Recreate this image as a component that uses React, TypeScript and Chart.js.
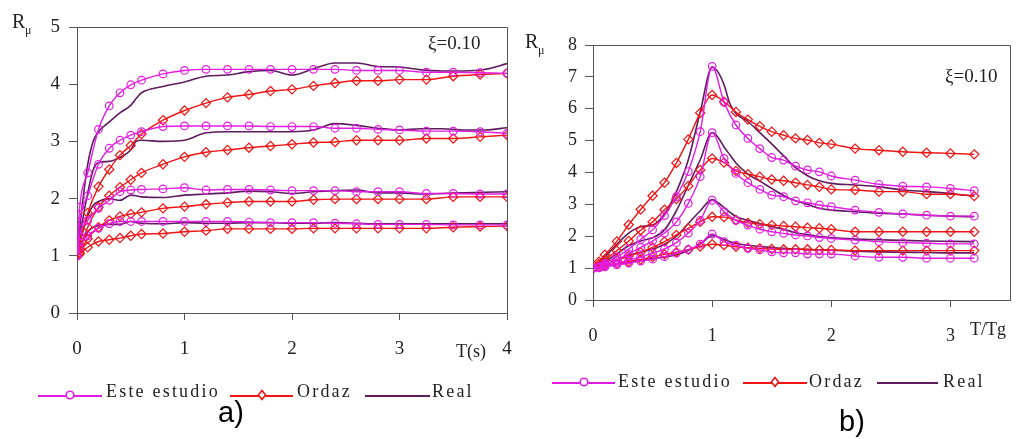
import React, { useEffect, useRef } from "react";
import { Chart, registerables } from "chart.js";
Chart.register(...registerables);

// ---------------- Panel a) data: R_mu vs T(s) ----------------
const periodsA = [0, 0.025, 0.1, 0.2, 0.3, 0.4, 0.5, 0.6, 0.8, 1.0, 1.2, 1.4, 1.6, 1.8, 2.0, 2.2, 2.4, 2.6, 2.8, 3.0, 3.25, 3.5, 3.75, 4.0];
const esteA1 = [1.0, 1.85, 2.45, 3.21, 3.62, 3.85, 3.99, 4.07, 4.18, 4.24, 4.26, 4.26, 4.26, 4.26, 4.26, 4.26, 4.26, 4.24, 4.24, 4.24, 4.21, 4.21, 4.2, 4.19];
const esteA2 = [1.0, 1.6, 2.05, 2.6, 2.88, 3.02, 3.11, 3.17, 3.26, 3.27, 3.27, 3.27, 3.27, 3.26, 3.26, 3.26, 3.23, 3.23, 3.21, 3.2, 3.18, 3.18, 3.17, 3.14];
const esteA3 = [1.0, 1.35, 1.62, 1.83, 1.97, 2.12, 2.15, 2.16, 2.17, 2.19, 2.15, 2.16, 2.16, 2.15, 2.14, 2.14, 2.14, 2.12, 2.12, 2.12, 2.09, 2.09, 2.08, 2.08];
const esteA4 = [1.0, 1.15, 1.35, 1.48, 1.56, 1.6, 1.6, 1.6, 1.6, 1.6, 1.6, 1.6, 1.59, 1.58, 1.58, 1.58, 1.57, 1.56, 1.55, 1.55, 1.55, 1.54, 1.54, 1.54];
const ordazA1 = [1.0, 1.2, 1.75, 2.21, 2.51, 2.76, 2.93, 3.13, 3.37, 3.54, 3.67, 3.77, 3.82, 3.88, 3.91, 3.97, 4.02, 4.06, 4.06, 4.08, 4.08, 4.14, 4.17, 4.19];
const ordazA2 = [1.0, 1.1, 1.5, 1.85, 2.05, 2.2, 2.33, 2.45, 2.6, 2.73, 2.81, 2.85, 2.89, 2.92, 2.95, 2.98, 2.99, 3.02, 3.02, 3.02, 3.05, 3.05, 3.08, 3.11];
const ordazA3 = [1.0, 1.05, 1.3, 1.5, 1.62, 1.69, 1.73, 1.76, 1.83, 1.86, 1.9, 1.93, 1.95, 1.95, 1.95, 1.98, 1.99, 1.99, 1.99, 1.99, 1.99, 2.03, 2.03, 2.03];
const ordazA4 = [1.0, 1.03, 1.15, 1.25, 1.28, 1.31, 1.35, 1.38, 1.39, 1.42, 1.44, 1.47, 1.47, 1.47, 1.47, 1.48, 1.48, 1.48, 1.48, 1.48, 1.48, 1.5, 1.51, 1.52];
const realPeriodsA = [0, 0.05, 0.1, 0.15, 0.2, 0.3, 0.4, 0.5, 0.55, 0.6, 0.8, 1.0, 1.2, 1.4, 1.6, 1.8, 2.0, 2.2, 2.4, 2.6, 2.8, 3.0, 3.2, 3.4, 3.6, 3.8, 4.0];
const realA1 = [1.0, 1.9, 2.6, 3.0, 3.17, 3.34, 3.5, 3.63, 3.75, 3.85, 3.96, 4.04, 4.14, 4.16, 4.22, 4.24, 4.16, 4.27, 4.37, 4.37, 4.31, 4.3, 4.25, 4.23, 4.23, 4.26, 4.36];
const realA2 = [1.0, 1.6, 2.1, 2.5, 2.63, 2.65, 2.72, 2.85, 3.0, 3.02, 3.0, 3.02, 3.15, 3.17, 3.17, 3.17, 3.17, 3.2, 3.31, 3.28, 3.23, 3.2, 3.22, 3.22, 3.2, 3.2, 3.24];
const realA3 = [1.0, 1.4, 1.7, 1.88, 1.95, 2.0, 1.97, 2.06, 2.05, 2.03, 2.02, 2.06, 2.08, 2.1, 2.13, 2.12, 2.09, 2.12, 2.14, 2.15, 2.1, 2.1, 2.08, 2.09, 2.1, 2.11, 2.12];
const realA4 = [1.0, 1.25, 1.42, 1.5, 1.53, 1.55, 1.55, 1.6, 1.58, 1.57, 1.56, 1.58, 1.57, 1.57, 1.58, 1.58, 1.57, 1.57, 1.58, 1.57, 1.56, 1.56, 1.56, 1.56, 1.56, 1.56, 1.56];
const xTicksA = [0, 1, 2, 3, 4];

// ---------------- Panel b) data: R_mu vs T/Tg ----------------
const periodsB = [0, 0.05, 0.1, 0.2, 0.3, 0.4, 0.5, 0.6, 0.7, 0.8, 0.9, 1.0, 1.1, 1.2, 1.3, 1.4, 1.5, 1.6, 1.7, 1.8, 1.9, 2.0, 2.2, 2.4, 2.6, 2.8, 3.0, 3.2];
const esteB1 = [1.0, 1.05, 1.15, 1.35, 1.6, 1.9, 2.2, 2.65, 3.24, 4.03, 5.28, 7.33, 6.2, 5.49, 5.07, 4.75, 4.47, 4.39, 4.2, 4.08, 4.02, 3.89, 3.76, 3.63, 3.57, 3.55, 3.5, 3.43];
const esteB2 = [1.0, 1.03, 1.1, 1.25, 1.45, 1.65, 1.85, 2.1, 2.45, 3.03, 3.87, 5.25, 4.44, 3.97, 3.68, 3.47, 3.29, 3.24, 3.11, 3.05, 2.98, 2.93, 2.82, 2.75, 2.7, 2.66, 2.63, 2.63];
const esteB3 = [1.0, 1.02, 1.06, 1.15, 1.25, 1.35, 1.47, 1.6, 1.8, 2.1, 2.5, 3.13, 2.77, 2.5, 2.35, 2.22, 2.14, 2.09, 2.04, 2.01, 1.96, 1.93, 1.88, 1.83, 1.8, 1.78, 1.76, 1.76];
const esteB4 = [1.0, 1.01, 1.04, 1.1, 1.16, 1.22, 1.28, 1.36, 1.47, 1.58, 1.75, 2.07, 1.83, 1.72, 1.62, 1.57, 1.51, 1.48, 1.48, 1.44, 1.44, 1.44, 1.38, 1.34, 1.34, 1.31, 1.31, 1.31];
const ordazB1 = [1.0, 1.2, 1.42, 1.84, 2.36, 2.84, 3.27, 3.68, 4.3, 5.04, 5.87, 6.43, 6.22, 5.9, 5.66, 5.45, 5.28, 5.17, 5.07, 5.02, 4.93, 4.89, 4.75, 4.7, 4.65, 4.62, 4.6, 4.57];
const ordazB2 = [1.0, 1.12, 1.25, 1.55, 1.85, 2.19, 2.45, 2.83, 3.17, 3.58, 4.08, 4.44, 4.31, 4.05, 3.95, 3.87, 3.78, 3.74, 3.68, 3.61, 3.55, 3.47, 3.45, 3.4, 3.4, 3.32, 3.32, 3.26];
const ordazB3 = [1.0, 1.06, 1.12, 1.25, 1.38, 1.5, 1.65, 1.83, 2.04, 2.25, 2.45, 2.61, 2.6, 2.51, 2.42, 2.38, 2.35, 2.32, 2.3, 2.27, 2.25, 2.22, 2.14, 2.14, 2.14, 2.14, 2.14, 2.14];
const ordazB4 = [1.0, 1.04, 1.08, 1.15, 1.2, 1.27, 1.35, 1.43, 1.5, 1.58, 1.68, 1.75, 1.72, 1.67, 1.64, 1.62, 1.6, 1.59, 1.59, 1.59, 1.57, 1.57, 1.55, 1.55, 1.55, 1.55, 1.55, 1.55];
const realPeriodsB = [0, 0.1, 0.2, 0.3, 0.4, 0.5, 0.6, 0.7, 0.8, 0.9, 1.0, 1.05, 1.1, 1.15, 1.2, 1.3, 1.4, 1.5, 1.6, 1.7, 1.8, 1.9, 2.0, 2.2, 2.4, 2.6, 2.8, 3.0, 3.2];
const realB1 = [1.0, 1.35, 1.75, 2.1, 2.3, 2.35, 2.7, 3.4, 4.4, 5.9, 7.3, 7.15, 6.75, 6.15, 5.85, 5.6, 5.25, 4.9, 4.52, 4.15, 3.9, 3.74, 3.66, 3.61, 3.55, 3.45, 3.4, 3.34, 3.26];
const realB2 = [1.0, 1.2, 1.45, 1.7, 1.85, 1.95, 2.2, 2.8, 3.6, 4.4, 5.25, 5.1, 4.8, 4.55, 4.3, 3.95, 3.73, 3.5, 3.28, 3.11, 3.0, 2.88, 2.82, 2.77, 2.72, 2.7, 2.66, 2.63, 2.61];
const realB3 = [1.0, 1.1, 1.25, 1.4, 1.5, 1.6, 1.75, 2.0, 2.4, 2.8, 3.15, 3.05, 2.9, 2.75, 2.62, 2.5, 2.4, 2.3, 2.22, 2.11, 2.05, 1.99, 1.96, 1.91, 1.89, 1.87, 1.85, 1.84, 1.83];
const realB4 = [1.0, 1.05, 1.12, 1.18, 1.25, 1.3, 1.35, 1.42, 1.55, 1.75, 2.02, 1.98, 1.9, 1.83, 1.78, 1.72, 1.68, 1.65, 1.62, 1.6, 1.58, 1.57, 1.56, 1.53, 1.51, 1.5, 1.49, 1.48, 1.48];
const xTicksB = [0, 1, 2, 3];

const legendLabels = ["Este estudio", "Ordaz", "Real"];

// ---------------- styles ----------------
const ESTE = "#E31CE3";
const ORDAZ = "#F01414";
const REAL = "#5E1B5E";
const AXIS = "#555555";
const TEXT = "#222222";
const SERIF = "'Liberation Serif', 'DejaVu Serif', serif";
const SANS = "'Liberation Sans', Arial, sans-serif";

type Kind = "este" | "ordaz" | "real";

function makeDataset(kind: Kind, xs: number[], ys: number[]) {
  const color = kind === "este" ? ESTE : kind === "ordaz" ? ORDAZ : REAL;
  return {
    data: xs.map((x, i) => ({ x, y: ys[i] })),
    borderColor: color,
    backgroundColor: color,
    borderWidth: kind === "real" ? 1.6 : 1.4,
    pointRadius: kind === "real" ? 0 : kind === "este" ? 3.8 : 4.6,
    pointStyle: kind === "ordaz" ? "rectRot" : "circle",
    pointBorderColor: color,
    pointBackgroundColor: "rgba(255,255,255,0)",
    pointBorderWidth: 1.2,
    cubicInterpolationMode: "monotone",
    fill: false,
  };
}

type Deco = {
  rx: number; ry: number; subX: number; subY: number;
  xiX: number; xiY: number;
  title: string; titleX: number; titleY: number;
  legLineY: number; legTextY: number;
  items: { x0: number; x1: number; mx: number | null; tx: number }[];
  letter: string; letterX: number; letterY: number;
};

function drawSpaced(ctx: CanvasRenderingContext2D, text: string, x: number, y: number, spacing: number) {
  let cx = x;
  for (const ch of text) {
    ctx.fillText(ch, cx, y);
    cx += ctx.measureText(ch).width + spacing;
  }
}

function decoPlugin(d: Deco) {
  return {
    id: "deco",
    afterDraw(chart: any) {
      const ctx: CanvasRenderingContext2D = chart.ctx;
      const a = chart.chartArea;
      ctx.save();
      // frame
      ctx.strokeStyle = AXIS;
      ctx.lineWidth = 1;
      ctx.beginPath();
      ctx.moveTo(Math.round(a.left) + 0.5, Math.round(a.top) + 0.5);
      ctx.lineTo(Math.round(a.right) + 0.5, Math.round(a.top) + 0.5);
      ctx.lineTo(Math.round(a.right) + 0.5, Math.round(a.bottom) + 0.5);
      ctx.stroke();
      ctx.fillStyle = TEXT;
      ctx.textAlign = "left";
      ctx.textBaseline = "alphabetic";
      // R_mu
      ctx.font = `20px ${SERIF}`;
      ctx.fillText("R", d.rx, d.ry);
      ctx.font = `12px ${SERIF}`;
      ctx.fillText("\u03bc", d.subX, d.subY);
      // xi
      ctx.font = `19px ${SERIF}`;
      ctx.fillText("\u03be=0.10", d.xiX, d.xiY);
      // axis title
      ctx.font = `18px ${SERIF}`;
      ctx.fillText(d.title, d.titleX, d.titleY);
      // legend
      const colors = [ESTE, ORDAZ, REAL];
      d.items.forEach((it, i) => {
        ctx.strokeStyle = colors[i];
        ctx.lineWidth = 2.2;
        ctx.beginPath();
        ctx.moveTo(it.x0, d.legLineY);
        ctx.lineTo(it.x1, d.legLineY);
        ctx.stroke();
        if (it.mx !== null) {
          ctx.lineWidth = 1.6;
          ctx.beginPath();
          if (i === 0) {
            ctx.arc(it.mx, d.legLineY - 1, 3.8, 0, Math.PI * 2);
          } else {
            const r = 4.5;
            ctx.moveTo(it.mx, d.legLineY - 1 - r);
            ctx.lineTo(it.mx + r * 0.8, d.legLineY - 1);
            ctx.lineTo(it.mx, d.legLineY - 1 + r);
            ctx.lineTo(it.mx - r * 0.8, d.legLineY - 1);
            ctx.closePath();
          }
          ctx.fillStyle = "#ffffff";
          ctx.fill();
          ctx.stroke();
        }
        ctx.fillStyle = TEXT;
        ctx.font = `18px ${SERIF}`;
        drawSpaced(ctx, legendLabels[i], it.tx, d.legTextY, 2.2);
      });
      // panel letter
      ctx.fillStyle = "#000000";
      ctx.font = `29px ${SANS}`;
      ctx.textAlign = "center";
      ctx.fillText(d.letter, d.letterX, d.letterY);
      ctx.restore();
    },
  };
}

type PanelSpec = {
  width: number; height: number; left: number;
  datasets: any[];
  xMax: number; yMax: number; xTicks: number[];
  padTop: number; padRight: number; xAxisH: number; yAxisW: number;
  fontSize: number; xPad: number; yPad: number;
  deco: Deco;
};

function Panel({ spec }: { spec: PanelSpec }) {
  const ref = useRef<HTMLCanvasElement | null>(null);
  useEffect(() => {
    if (!ref.current) return;
    const tickFont = { family: SERIF, size: spec.fontSize };
    const chart = new Chart(ref.current, {
      type: "line",
      data: { datasets: spec.datasets },
      options: {
        animation: false,
        responsive: false,
        maintainAspectRatio: false,
        layout: { padding: { left: 0, right: spec.padRight, top: spec.padTop, bottom: 0 } },
        plugins: { legend: { display: false }, tooltip: { enabled: false } },
        scales: {
          x: {
            type: "linear",
            min: 0,
            max: spec.xMax,
            afterBuildTicks: (s: any) => {
              s.ticks = spec.xTicks.map((v) => ({ value: v }));
            },
            afterFit: (s: any) => {
              s.height = spec.xAxisH;
              s.paddingLeft = 0;
              s.paddingRight = 0;
            },
            grid: { drawOnChartArea: false, drawTicks: true, tickLength: 7, color: AXIS },
            border: { color: AXIS, width: 1 },
            ticks: { font: tickFont, color: TEXT, padding: spec.xPad, maxRotation: 0, autoSkip: false },
          },
          y: {
            type: "linear",
            min: 0,
            max: spec.yMax,
            afterFit: (s: any) => {
              s.width = spec.yAxisW;
              s.paddingTop = 0;
              s.paddingBottom = 0;
            },
            grid: { drawOnChartArea: false, drawTicks: true, tickLength: 8, color: AXIS },
            border: { color: AXIS, width: 1 },
            ticks: { font: tickFont, color: TEXT, padding: spec.yPad, stepSize: 1 },
          },
        },
      } as any,
      plugins: [decoPlugin(spec.deco)],
    } as any);
    return () => chart.destroy();
  }, []);
  return (
    <canvas
      ref={ref}
      width={spec.width}
      height={spec.height}
      style={{ position: "absolute", left: spec.left, top: 0, width: spec.width, height: spec.height }}
    />
  );
}

const panelA: PanelSpec = {
  width: 515, height: 439, left: 0,
  datasets: [
    makeDataset("este", periodsA, esteA1),
    makeDataset("este", periodsA, esteA2),
    makeDataset("este", periodsA, esteA3),
    makeDataset("este", periodsA, esteA4),
    makeDataset("ordaz", periodsA, ordazA1),
    makeDataset("ordaz", periodsA, ordazA2),
    makeDataset("ordaz", periodsA, ordazA3),
    makeDataset("ordaz", periodsA, ordazA4),
    makeDataset("real", realPeriodsA, realA1),
    makeDataset("real", realPeriodsA, realA2),
    makeDataset("real", realPeriodsA, realA3),
    makeDataset("real", realPeriodsA, realA4),
  ],
  xMax: 4, yMax: 5, xTicks: xTicksA,
  padTop: 27, padRight: 8, xAxisH: 126, yAxisW: 77,
  fontSize: 19, xPad: 18, yPad: 9,
  deco: {
    rx: 12, ry: 28, subX: 25, subY: 34,
    xiX: 428, xiY: 49,
    title: "T(s)", titleX: 456, titleY: 357,
    legLineY: 396, legTextY: 397,
    items: [
      { x0: 38, x1: 102, mx: 70, tx: 106 },
      { x0: 230, x1: 293, mx: 262, tx: 297 },
      { x0: 365, x1: 430, mx: null, tx: 432 },
    ],
    letter: "a)", letterX: 231, letterY: 422,
  },
};

const panelB: PanelSpec = {
  width: 512, height: 439, left: 515,
  datasets: [
    makeDataset("este", periodsB, esteB1),
    makeDataset("este", periodsB, esteB2),
    makeDataset("este", periodsB, esteB3),
    makeDataset("este", periodsB, esteB4),
    makeDataset("ordaz", periodsB, ordazB1),
    makeDataset("ordaz", periodsB, ordazB2),
    makeDataset("ordaz", periodsB, ordazB3),
    makeDataset("ordaz", periodsB, ordazB4),
    makeDataset("real", realPeriodsB, realB1),
    makeDataset("real", realPeriodsB, realB2),
    makeDataset("real", realPeriodsB, realB3),
    makeDataset("real", realPeriodsB, realB4),
  ],
  xMax: 3.5, yMax: 8, xTicks: xTicksB,
  padTop: 45, padRight: 17, xAxisH: 139, yAxisW: 78,
  fontSize: 18, xPad: 18, yPad: 8,
  deco: {
    rx: 10, ry: 48, subX: 23, subY: 54,
    xiX: 430, xiY: 82,
    title: "T/Tg", titleX: 455, titleY: 335,
    legLineY: 383, legTextY: 387,
    items: [
      { x0: 37, x1: 100, mx: 69, tx: 103 },
      { x0: 228, x1: 292, mx: 260, tx: 294 },
      { x0: 362, x1: 423, mx: null, tx: 428 },
    ],
    letter: "b)", letterX: 337, letterY: 431,
  },
};

export default function App() {
  return (
    <div style={{ position: "fixed", left: 0, top: 0, width: 1027, height: 439, background: "#ffffff" }}>
      <Panel spec={panelA} />
      <Panel spec={panelB} />
    </div>
  );
}
